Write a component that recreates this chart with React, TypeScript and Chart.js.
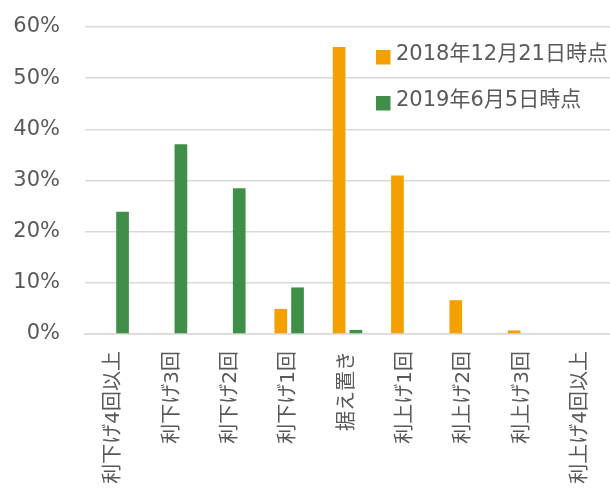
import React, { useEffect, useRef } from "react";
import { Chart, registerables } from "chart.js";

Chart.register(...registerables);

const categories = [
  "利下げ4回以上",
  "利下げ3回",
  "利下げ2回",
  "利下げ1回",
  "据え置き",
  "利上げ1回",
  "利上げ2回",
  "利上げ3回",
  "利上げ4回以上",
];
const seriesNames = ["2018年12月21日時点", "2019年6月5日時点"];
const dec2018 = [0, 0, 0, 4.9, 56.1, 31.0, 6.6, 0.7, 0];
const jun2019 = [23.9, 37.1, 28.5, 9.1, 0.8, 0, 0, 0, 0];
const yTicks = [0, 10, 20, 30, 40, 50, 60];
const colors = ["#F4A100", "#3F8F49"];

const FONT = '"DejaVu Sans", "Noto Sans CJK JP", sans-serif';
const TEXT = "#595959";

const legendPlugin = {
  id: "insideLegend",
  afterDraw(chart: any) {
    const ctx = chart.ctx;
    ctx.save();
    ctx.font = `21px ${FONT}`;
    ctx.textBaseline = "middle";
    chart.data.datasets.forEach((ds: any, i: number) => {
      const y = 57 + i * 46;
      ctx.fillStyle = ds.backgroundColor;
      ctx.fillRect(376, y - 7, 14.5, 14.5);
      ctx.fillStyle = TEXT;
      ctx.fillText(ds.label, 396, y - 2);
    });
    ctx.restore();
  },
};

export default function App() {
  const ref = useRef<HTMLCanvasElement>(null);
  useEffect(() => {
    const chart = new Chart(ref.current!, {
      type: "bar",
      data: {
        labels: categories,
        datasets: [
          { label: seriesNames[0], data: dec2018, backgroundColor: colors[0] },
          { label: seriesNames[1], data: jun2019, backgroundColor: colors[1] },
        ],
      },
      options: {
        animation: false,
        responsive: false,
        maintainAspectRatio: false,
        layout: { padding: { top: 27, left: 0, right: 0, bottom: 0 } },
        datasets: { bar: { categoryPercentage: 0.575, barPercentage: 0.756 } },
        plugins: { legend: { display: false }, tooltip: { enabled: false } },
        scales: {
          x: {
            grid: { display: false, drawTicks: false },
            border: { display: true, color: "#d9d9d9", width: 1.5 },
            ticks: {
              minRotation: 90,
              maxRotation: 90,
              autoSkip: false,
              padding: 17,
              color: TEXT,
              font: { family: FONT, size: 20 },
            },
            afterFit(scale: any) {
              scale.height = 155;
              scale.paddingLeft = 0;
              scale.paddingRight = 0;
            },
          },
          y: {
            min: 0,
            max: 60,
            afterBuildTicks(scale: any) {
              scale.ticks = yTicks.map((v) => ({ value: v }));
            },
            grid: { color: "#d9d9d9", lineWidth: 1.5, drawTicks: false },
            border: { display: false },
            ticks: {
              padding: 25,
              color: TEXT,
              font: { family: FONT, size: 21 },
              callback: (v: any) => `${v}%`,
            },
            afterFit(scale: any) {
              scale.width = 85;
              scale.paddingTop = 0;
              scale.paddingBottom = 0;
            },
          },
        },
      },
      plugins: [legendPlugin],
    });
    return () => chart.destroy();
  }, []);
  return (
    <div style={{ position: "fixed", left: 0, top: 0, width: 610, height: 489, background: "#fff" }}>
      <canvas ref={ref} width={610} height={489} style={{ width: 610, height: 489 }} />
    </div>
  );
}
